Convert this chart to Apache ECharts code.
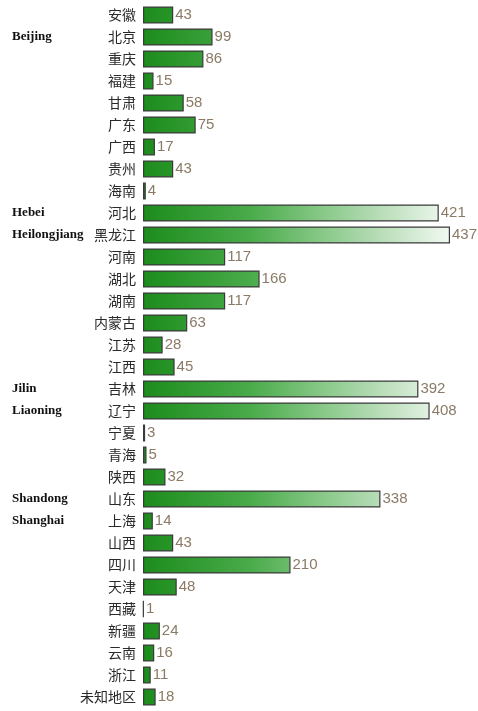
<!DOCTYPE html>
<html><head><meta charset="utf-8">
<script src="https://cdn.jsdelivr.net/npm/echarts@6/dist/echarts.min.js"></script>
<style>html,body{margin:0;padding:0;background:#fff}#c{width:478px;height:711px}</style>
</head><body><div id="c"></div>
<script>
const categories = ['安徽','北京','重庆','福建','甘肃','广东','广西','贵州','海南','河北','黑龙江','河南','湖北','湖南','内蒙古','江苏','江西','吉林','辽宁','宁夏','青海','陕西','山东','上海','山西','四川','天津','西藏','新疆','云南','浙江','未知地区'];
const values = [43,99,86,15,58,75,17,43,4,421,437,117,166,117,63,28,45,392,408,3,5,32,338,14,43,210,48,1,24,16,11,18];
const sideNotes = {'北京':'Beijing','河北':'Hebei','黑龙江':'Heilongjiang','吉林':'Jilin','辽宁':'Liaoning','山东':'Shandong','上海':'Shanghai'};

const chart = echarts.init(document.getElementById('c'));
const gradient = new echarts.graphic.LinearGradient(143, 0, 450, 0, [
  {offset:0, color:'#1c8c1c'},
  {offset:0.35, color:'#4aab4a'},
  {offset:0.55, color:'#7fc47f'},
  {offset:0.8, color:'#bfe0bf'},
  {offset:1, color:'#f2f9f2'}
], true);
chart.setOption({
  animation:false,
  grid:{left:143, right:28, top:4, bottom:3, containLabel:false},
  xAxis:{type:'value', min:0, max:437, show:false},
  yAxis:[{
    type:'category', data:categories, inverse:true,
    axisLine:{show:false}, axisTick:{show:false},
    axisLabel:{color:'#2a2a2a', fontSize:14, margin:7, fontFamily:'Noto Sans CJK SC'}
  },{
    type:'category', data:categories, inverse:true, position:'left',
    axisLine:{show:false}, axisTick:{show:false},
    axisLabel:{align:'left', margin:131, color:'#111', fontSize:13, fontWeight:'bold', fontFamily:'Liberation Serif',
      formatter:v=>sideNotes[v]||''}
  }],
  series:[{
    type:'bar', data:values, barWidth:17, yAxisIndex:0,
    itemStyle:{color:gradient, borderColor:'#3a3a3a', borderWidth:1.2},
    label:{show:true, position:'right', distance:2, color:'#8a7a66', fontSize:15, fontFamily:'Liberation Sans'}
  }]
});
</script></body></html>
